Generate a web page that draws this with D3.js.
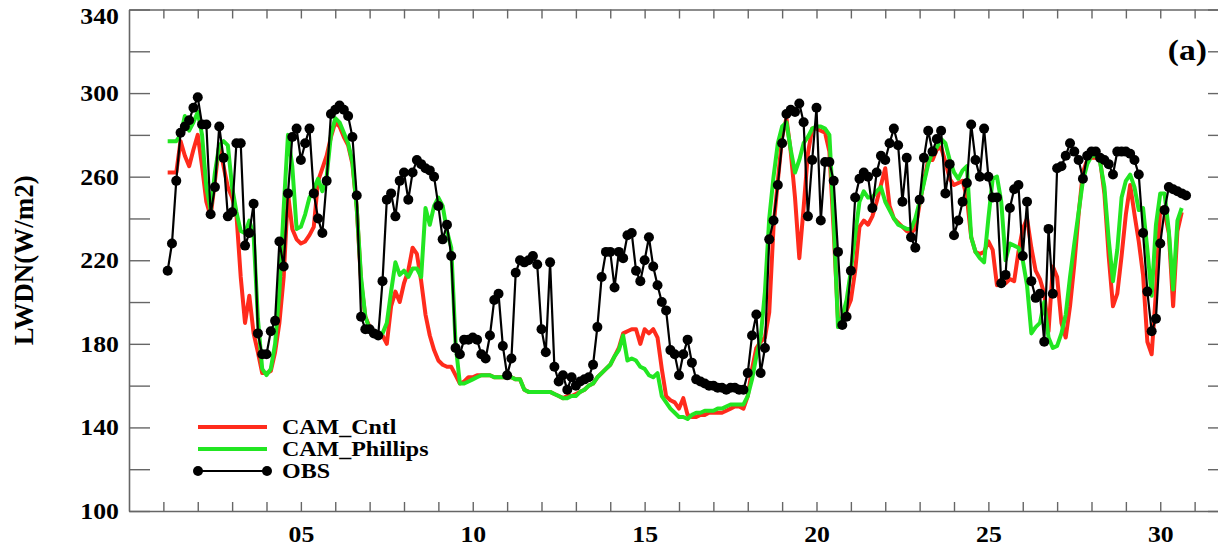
<!DOCTYPE html>
<html>
<head>
<meta charset="utf-8">
<script src="https://cdn.jsdelivr.net/npm/d3@7"></script>
<style>
  body { margin: 0; background: #fff; }
  text { font-family: 'Liberation Serif', 'Times New Roman', serif; font-weight: bold; fill: #000; }
</style>
</head>
<body>
<div class="canvas"></div>
<script>
// 3-hourly samples, first one at day 1.125 (one row per day)
const startDay = 1.125;
const stepDay = 0.125;

const obsValues = [
  215,228,258,281,284,287,293,
  298,285,285,242,255,284,269,241,
  243,276,276,227,233,247,185,175,
  175,186,191,229,217,252,279,283,
  268,276,283,252,240,233,258,290,
  292,294,292,289,279,251,193,187,
  187,185,184,210,249,252,241,258,
  262,249,262,268,266,264,263,260,
  246,230,237,222,178,175,182,182,
  183,182,175,173,184,201,204,179,
  165,173,214,220,219,220,222,218,
  187,176,219,169,162,165,158,164,
  160,162,163,164,170,188,212,224,
  224,207,224,221,232,233,215,210,
  220,231,217,208,200,196,177,175,
  165,175,182,171,163,162,161,160,
  160,159,159,158,159,159,158,158,
  166,184,194,166,178,230,239,256,
  276,290,292,291,295,286,241,268,
  293,239,267,267,258,224,189,193,
  215,250,259,262,260,245,262,270,
  268,276,283,275,248,269,231,226,
  249,269,282,272,278,282,252,266,
  232,239,248,257,285,268,260,283,
  260,250,250,209,213,245,254,256,
  222,248,210,202,204,181,235,204,
  264,265,270,276,272,268,259,270,
  272,272,269,268,266,261,272,272,
  272,271,268,261,233,205,186,192,
  228,244,255,254,253,252,251
];

const cntlValues = [
  262,262,262,277,270,265,273,
  280,265,248,241,258,275,265,255,
  250,242,212,190,203,185,176,166,
  166,167,176,190,212,252,235,230,
  228,229,232,236,258,264,270,279,
  286,284,279,275,266,245,210,193,
  188,186,185,184,180,198,205,200,
  209,215,226,223,210,194,184,177,
  172,170,169,169,165,161,162,164,
  164,165,165,165,165,164,164,164,
  164,164,163,163,158,157,157,157,
  157,157,157,156,155,154,155,155,
  156,157,158,160,161,164,166,168,
  170,174,178,185,186,187,187,180,
  187,185,187,183,168,155,153,152,
  149,154,146,145,145,146,146,147,
  147,147,147,148,149,150,150,149,
  155,168,178,181,183,195,236,258,
  279,288,272,250,221,245,271,283,
  283,282,281,272,234,192,189,196,
  201,215,236,239,237,241,248,256,
  264,246,240,238,236,234,233,235,
  247,258,268,268,273,274,267,259,
  256,257,258,250,231,224,223,224,
  229,225,208,210,209,211,210,224,
  235,240,226,215,211,204,186,217,
  212,190,183,198,218,242,262,268,
  269,269,268,252,222,198,204,222,
  242,256,242,229,213,181,175,205,
  245,243,233,198,234,243
];

const phillipsValues = [
  277,277,277,280,289,282,286,
  291,280,255,244,262,275,277,275,
  255,243,234,233,239,232,192,168,
  165,168,180,205,245,280,265,235,
  236,242,250,254,259,253,260,280,
  288,286,281,276,267,245,212,193,
  187,186,185,185,190,205,219,213,
  215,212,216,216,212,245,237,246,
  250,246,234,226,180,161,161,162,
  163,164,165,165,165,164,164,164,
  164,164,163,163,158,157,157,157,
  157,157,157,156,155,154,154,155,
  155,157,158,160,161,164,166,168,
  170,174,177,184,172,173,172,169,
  168,165,164,166,155,152,149,147,
  145,145,144,146,147,147,148,148,
  148,149,149,150,151,151,151,151,
  155,163,174,183,205,240,260,276,
  284,286,273,262,268,276,279,283,
  284,284,283,280,240,188,193,201,
  215,232,248,253,250,250,253,255,
  248,244,240,237,236,235,235,240,
  248,257,266,272,274,278,276,268,
  262,259,263,265,231,224,221,219,
  240,259,260,248,220,228,227,226,
  220,208,185,188,190,200,183,178,
  179,185,194,212,228,243,258,266,
  270,270,267,255,230,210,225,250,
  258,261,255,244,245,225,203,237,
  252,252,234,206,239,245
];

const yTicks = [100,120,140,160,180,200,220,240,260,280,300,320,340];
const yLabels = [100,140,180,220,260,300,340];
const xTicks = d3.range(1, 32);
const xLabels = [5,10,15,20,25,30];
const seriesNames = ['CAM_Cntl', 'CAM_Phillips', 'OBS'];
const seriesColors = ['#ff2b1c', '#22e622', '#000'];

const dims = { width: 1218, height: 550 };
// right frame edge falls just outside the picture
const plot = { left: 129, right: 1229, top: 9.5, bottom: 511 };
const stretch = 'scale(1.12,1)';

const svg = d3.select('.canvas')
    .append('svg')
    .attr('width', dims.width)
    .attr('height', dims.height);

const x = d3.scaleLinear().domain([0, 32]).range([plot.left, plot.right]);
const y = d3.scaleLinear().domain([100, 340]).range([plot.bottom, plot.top]);

const dayOf = i => startDay + i * stepDay;

// axes
const styleAxis = g => {
    g.selectAll('path.domain').attr('stroke', '#666').attr('stroke-width', 1.6);
    g.selectAll('.tick line').attr('stroke', '#666').attr('stroke-width', 1.4);
    g.selectAll('.tick text')
        .attr('font-size', 23)
        .attr('font-family', "'Liberation Serif', 'Times New Roman', serif")
        .attr('font-weight', 'bold')
        .attr('fill', '#000')
        .attr('transform', stretch);
};

svg.append('g')
    .attr('transform', `translate(${plot.left},0)`)
    .call(d3.axisLeft(y).tickValues(yTicks).tickSizeInner(-21).tickSizeOuter(0).tickPadding(9)
        .tickFormat(d => yLabels.includes(d) ? d : ''))
    .call(styleAxis)
    .call(g => g.selectAll('.tick text')
        .filter(d => d === 340)
        .attr('transform', `translate(0,7) ${stretch}`)); // top label kept inside the picture

svg.append('g')
    .attr('transform', `translate(${plot.right},0)`)
    .call(d3.axisRight(y).tickValues(yTicks).tickSizeInner(-21).tickSizeOuter(0).tickFormat(''))
    .call(styleAxis);

svg.append('g')
    .attr('transform', `translate(0,${plot.bottom})`)
    .call(d3.axisBottom(x).tickValues(xTicks).tickSizeInner(-9).tickSizeOuter(0).tickPadding(15)
        .tickFormat(d => xLabels.includes(d) ? d3.format('02d')(d) : ''))
    .call(styleAxis);

svg.append('g')
    .attr('transform', `translate(0,${plot.top})`)
    .call(d3.axisTop(x).tickValues(xTicks).tickSizeInner(-9).tickSizeOuter(0).tickFormat(''))
    .call(styleAxis);

// series
const line = d3.line()
    .x((d, i) => x(dayOf(i)))
    .y(d => y(d));

const graph = svg.append('g');

graph.append('path')
    .datum(cntlValues)
    .attr('d', line)
    .attr('fill', 'none')
    .attr('stroke', seriesColors[0])
    .attr('stroke-width', 4)
    .attr('stroke-linejoin', 'round');

graph.append('path')
    .datum(phillipsValues)
    .attr('d', line)
    .attr('fill', 'none')
    .attr('stroke', seriesColors[1])
    .attr('stroke-width', 4)
    .attr('stroke-linejoin', 'round');

graph.append('path')
    .datum(obsValues)
    .attr('d', line)
    .attr('fill', 'none')
    .attr('stroke', '#000')
    .attr('stroke-width', 2.2);

graph.selectAll('circle.obs')
    .data(obsValues)
    .join('circle')
    .attr('class', 'obs')
    .attr('cx', (d, i) => x(dayOf(i)))
    .attr('cy', d => y(d))
    .attr('r', 5)
    .attr('fill', '#000');

// legend
const legend = svg.append('g').attr('transform', 'translate(198,427)');
const rows = legend.selectAll('g')
    .data(seriesNames)
    .join('g')
    .attr('transform', (d, i) => `translate(0,${i * 22})`);

rows.append('line')
    .attr('x1', 0).attr('x2', 69)
    .attr('stroke', (d, i) => seriesColors[i])
    .attr('stroke-width', (d, i) => i < 2 ? 4 : 2.2);

rows.filter(d => d === 'OBS').selectAll('circle')
    .data([0, 69])
    .join('circle')
    .attr('cx', d => d)
    .attr('r', 5)
    .attr('fill', '#000');

rows.append('text')
    .attr('transform', 'translate(84,7) scale(1.17,1)')
    .attr('font-size', 20.5)
    .text(d => d);

// labels
svg.append('text')
    .attr('transform', `translate(33,${(plot.top + plot.bottom) / 2}) rotate(-90)`)
    .attr('text-anchor', 'middle')
    .attr('font-size', 27)
    .text('LWDN(W/m2)');

svg.append('text')
    .attr('transform', `translate(1207,60) ${stretch}`)
    .attr('text-anchor', 'end')
    .attr('font-size', 30)
    .text('(a)');
</script>
</body>
</html>
